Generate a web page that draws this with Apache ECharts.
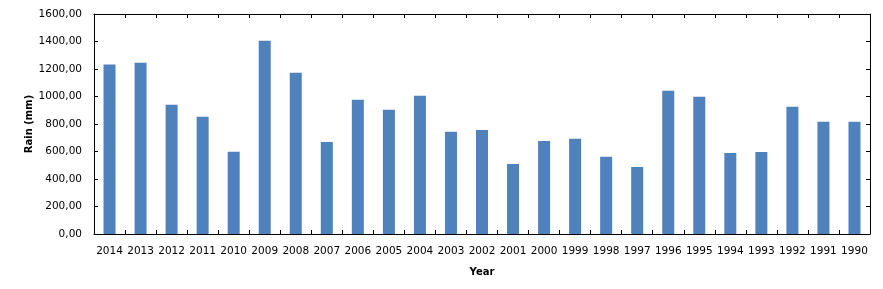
<!DOCTYPE html>
<html>
<head>
<meta charset="utf-8">
<script src="https://cdn.jsdelivr.net/npm/echarts@6/dist/echarts.min.js"></script>
<style>
html,body{margin:0;padding:0;background:#fff;}
#c{width:883px;height:289px;}
</style>
</head>
<body>
<div id="c"></div>
<script>
const years = ['2014','2013','2012','2011','2010','2009','2008','2007','2006','2005','2004','2003','2002','2001','2000','1999','1998','1997','1996','1995','1994','1993','1992','1991','1990'];
const rain = [1232,1246,940,852,598,1406,1173,670,976,903,1005,743,757,510,677,692,561,488,1042,998,590,597,925,816,816];
const yTicks = {min:0, max:1600, interval:200};
const yTitle = 'Rain (mm)';
const xTitle = 'Year';

const chart = echarts.init(document.getElementById('c'), null, {renderer:'canvas'});
const font = 'DejaVu Sans';
const axisLine = {show:true, onZero:false, lineStyle:{color:'#000', width:1}};
const tick = {show:true, inside:true, length:4, lineStyle:{color:'#000', width:1}};
chart.setOption({
  animation:false,
  backgroundColor:'#fff',
  grid:{left:94, right:13, top:14, bottom:55, containLabel:false},
  xAxis:[{
    type:'category', data:years, position:'bottom', boundaryGap:true,
    axisLine:axisLine, axisTick:Object.assign({alignWithLabel:false, interval:0}, tick),
    axisLabel:{interval:0, color:'#000', fontFamily:font, fontSize:10.5, margin:12},
    name:xTitle, nameLocation:'middle', nameGap:33, nameMoveOverlap:false,
    nameTextStyle:{color:'#000', fontFamily:font, fontWeight:'bold', fontSize:10}
  },{
    type:'category', data:years, position:'top', boundaryGap:true,
    axisLine:axisLine, axisTick:Object.assign({alignWithLabel:false, interval:0}, tick),
    axisLabel:{show:false}
  }],
  yAxis:[{
    type:'value', min:yTicks.min, max:yTicks.max, interval:yTicks.interval, position:'left',
    axisLine:axisLine, axisTick:tick, splitLine:{show:false},
    axisLabel:{color:'#000', fontFamily:font, fontSize:10.5, margin:12,
      formatter:v=>v.toFixed(2).replace('.',',')},
    name:yTitle, nameLocation:'middle', nameGap:60, nameRotate:90, nameMoveOverlap:false,
    nameTextStyle:{color:'#000', fontFamily:font, fontWeight:'bold', fontSize:10}
  },{
    type:'value', min:yTicks.min, max:yTicks.max, interval:yTicks.interval, position:'right',
    axisLine:axisLine, axisTick:tick, splitLine:{show:false}, axisLabel:{show:false}
  }],
  series:[{
    type:'bar', data:rain, barWidth:12, xAxisIndex:0, yAxisIndex:0,
    itemStyle:{color:'#4F81BD'}
  }]
});
</script>
</body>
</html>
